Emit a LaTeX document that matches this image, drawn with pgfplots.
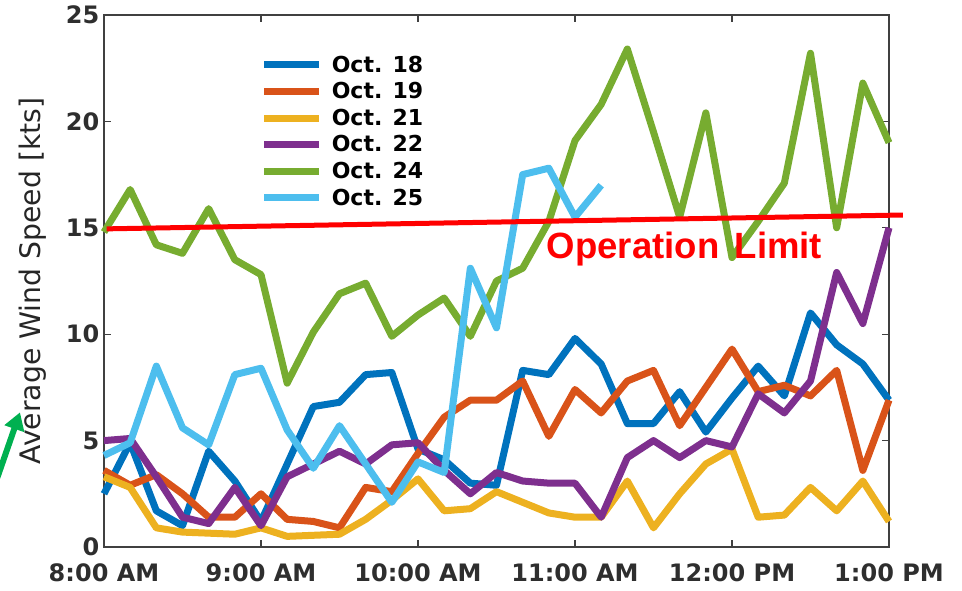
\documentclass[border=0pt]{standalone}
\usepackage{pgfplots}
\pgfplotsset{compat=1.18}
\usepackage{pgfplotstable}
\usepackage{fontspec}
\setmainfont{DejaVu Sans}
\newfontfamily\arialfont{Liberation Sans}
\usetikzlibrary{arrows.meta}
\definecolor{cA}{HTML}{0072BD}
\definecolor{cB}{HTML}{D95319}
\definecolor{cC}{HTML}{EDB120}
\definecolor{cD}{HTML}{7E2F8E}
\definecolor{cE}{HTML}{77AC30}
\definecolor{cF}{HTML}{4DBEEE}
\definecolor{axgray}{HTML}{404040}
\definecolor{arrowgreen}{HTML}{00B050}

\pgfplotstableread{
i   a    b    c    d    e    f
0   2.5  3.6  3.3  5.0  14.8 4.3
1   4.9  2.9  2.8  5.1  16.8 4.9
2   1.7  3.4  0.9  3.3  14.2 8.5
3   1.0  2.5  0.7  1.4  13.8 5.6
4   4.5  1.4  0.65 1.1  15.9 4.8
5   3.1  1.4  0.6  2.8  13.5 8.1
6   1.2  2.5  0.9  1.0  12.8 8.4
7   3.9  1.3  0.5  3.3  7.7  5.5
8   6.6  1.2  0.55 3.9  10.1 3.7
9   6.8  0.9  0.6  4.5  11.9 5.7
10  8.1  2.8  1.3  3.9  12.4 3.9
11  8.2  2.6  2.2  4.8  9.9  2.1
12  4.6  4.4  3.2  4.9  10.9 4.0
13  4.1  6.1  1.7  3.6  11.7 3.5
14  3.0  6.9  1.8  2.5  9.9  13.1
15  2.9  6.9  2.6  3.5  12.5 10.3
16  8.3  7.8  2.1  3.1  13.1 17.5
17  8.1  5.2  1.6  3.0  15.3 17.8
18  9.8  7.4  1.4  3.0  19.1 15.5
19  8.6  6.3  1.4  1.4  20.8 17.0
20  5.8  7.8  3.1  4.2  23.4 nan
21  5.8  8.3  0.9  5.0  19.5 nan
22  7.3  5.7  2.5  4.2  15.5 nan
23  5.4  7.5  3.9  5.0  20.4 nan
24  7.0  9.3  4.6  4.7  13.6 nan
25  8.5  7.3  1.4  7.2  15.3 nan
26  7.1  7.6  1.5  6.3  17.1 nan
27  11.0 7.1  2.8  7.8  23.2 nan
28  9.5  8.3  1.7  12.9 15.0 nan
29  8.6  3.6  3.1  10.5 21.8 nan
30  6.9  6.9  1.2  15.0 19.0 nan
}\winddata

\begin{document}
\begin{tikzpicture}
\begin{axis}[
  scale only axis,
  width=588.75pt, height=399pt,
  at={(0pt,0pt)}, anchor=south west,
  xmin=0, xmax=30, ymin=0, ymax=25,
  clip=false,
  axis line style={axgray, line width=0.9pt},
  tick style={axgray, line width=0.9pt},
  tick align=inside,
  major tick length=5pt,
  xtick={0,6,12,18,24,30},
  xticklabels={8:00 AM,9:00 AM,10:00 AM,11:00 AM,12:00 PM,1:00 PM},
  ytick={0,5,10,15,20,25},
  yticklabels={0,5,10,15,20,25},
  ticklabel style={font=\fontsize{18pt}{20pt}\selectfont\bfseries, text=black!82},
  xticklabel style={yshift=-9pt},
  ylabel={Average Wind Speed [kts]},
  every axis y label/.style={at={(axis description cs:-0.0904,0.5)}, rotate=90, anchor=center, font=\fontsize{21.2pt}{23pt}\selectfont, text=black!85},
  legend style={at={(rel axis cs:0.196,0.934)}, anchor=north west, draw=none, fill=white,
    font=\fontsize{16.5pt}{19pt}\selectfont\bfseries, inner sep=2pt, row sep=2.2pt,
    /tikz/every odd column/.append style={column sep=5pt}},
  legend cell align=left,
  legend image code/.code={\draw[#1, line cap=butt] (0pt,0pt) -- (41pt,0pt);},
  every axis plot/.append style={line width=5.25pt, line join=round},
]
\addplot[cA] table[x=i, y=a] {\winddata}; \addlegendentry{Oct. 18}
\addplot[cB] table[x=i, y=b] {\winddata}; \addlegendentry{Oct. 19}
\addplot[cC] table[x=i, y=c] {\winddata}; \addlegendentry{Oct. 21}
\addplot[cD] table[x=i, y=d] {\winddata}; \addlegendentry{Oct. 22}
\addplot[cE] table[x=i, y=e] {\winddata}; \addlegendentry{Oct. 24}
\addplot[cF] table[x=i, y=f] {\winddata}; \addlegendentry{Oct. 25}
\addplot[red, line width=3.75pt, forget plot] coordinates {(0.1,14.95) (30.53,15.6)};
\node[anchor=base, text=red, font=\arialfont\bfseries\fontsize{27.4pt}{30pt}\selectfont, inner sep=0pt]
  at (axis cs:22.18,13.58) {Operation\hspace{0.42em}Limit};
\end{axis}
\draw[arrowgreen, line width=4.5pt, -{Triangle[length=13pt,width=15pt]}] (-80pt,52pt) -- (-63pt,101pt);
\pgfresetboundingbox
\useasboundingbox (-78pt,-33pt) rectangle (643.5pt,410.25pt);
\end{tikzpicture}
\end{document}
